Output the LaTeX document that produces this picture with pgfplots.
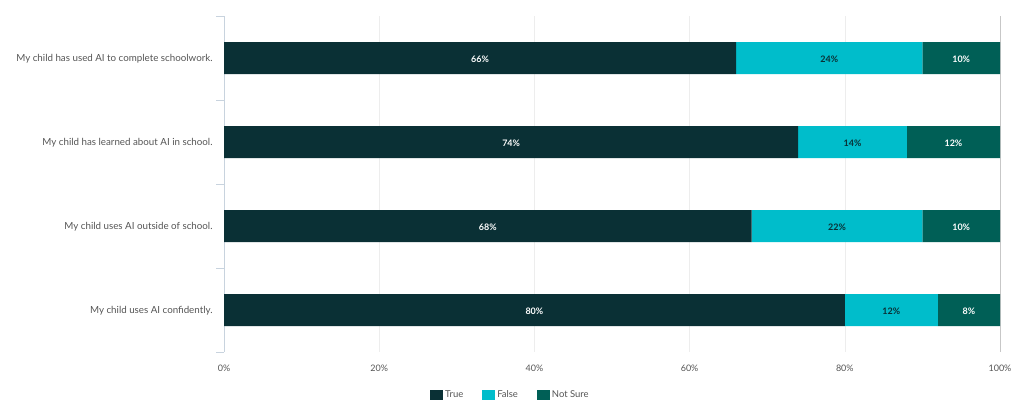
\documentclass[border=0pt]{standalone}
\usepackage{pgfplots}
\pgfplotsset{compat=1.18}
\usepackage{pgfplotstable}
\usepackage{fontspec}
\setmainfont{Lato}

\definecolor{cTrue}{HTML}{0A3035}
\definecolor{cFalse}{HTML}{00BDCB}
\definecolor{cUnsure}{HTML}{005F56}
\definecolor{labgray}{HTML}{555555}
\definecolor{axisblue}{HTML}{C8D3DE}

\pgfplotstableread{
cat true false unsure
0 66 24 10
1 74 14 12
2 68 22 10
3 80 12 8
}\survey

\begin{document}
\begin{tikzpicture}
\pgfplotsset{
  common/.style={
    at={(224bp,67bp)}, anchor=south west,
    scale only axis, width=776bp, height=336bp,
    xmin=0, xmax=100, ymin=-0.5, ymax=3.5, y dir=reverse,
    /pgf/number format/assume math mode=true,
  },
}
\begin{axis}[
    common,
    xbar stacked,
    bar width=32bp,
    separate axis lines,
    axis x line*=bottom,
    axis y line*=left,
    x axis line style={draw=none},
    y axis line style={draw=axisblue},
    xtick={0,20,...,100},
    xticklabel={\pgfmathprintnumber{\tick}\%},
    xticklabel style={inner sep=0pt, yshift=-9bp, font=\fontsize{9}{10}\selectfont, text=labgray},
    major x tick style={draw=none},
    xmajorgrids,
    grid style={draw=black!7},
    extra x ticks={100},
    extra x tick labels={},
    extra x tick style={grid style={draw=black!22}, major tick length=0pt},
    ytick={0,1,2,3},
    yticklabels={My child has used AI to complete schoolwork.,
                 My child has learned about AI in school.,
                 My child uses AI outside of school.,
                 My child uses AI confidently.},
    yticklabel style={inner sep=0pt, xshift=-7bp, yshift=-1bp, font=\fontsize{9.8}{11}\selectfont, text=labgray},
    major y tick style={draw=none},
    minor ytick={-0.5,0.5,1.5,2.5,3.5},
    minor tick length=8bp,
    tick align=outside,
    minor y tick style={draw=axisblue},
    legend style={at={(0.369,-0.128)}, anchor=center, draw=none,
      font=\fontsize{9.5}{10}\selectfont, text=labgray,
      /tikz/every even column/.append style={column sep=17bp}},
    legend columns=3,
    legend image code/.code={\fill[#1] (0bp,-4.5bp) rectangle (13bp,5.5bp);},
  ]
  \addplot[fill=cTrue, draw=none] table[x=true, y=cat] {\survey};
  \addplot[fill=cFalse, draw=none] table[x=false, y=cat] {\survey};
  \addplot[fill=cUnsure, draw=none] table[x=unsure, y=cat] {\survey};
  \legend{True, False, Not Sure}
\end{axis}
\begin{axis}[
    common, hide axis,
    nodes near coords={\pgfmathprintnumber{\pgfplotspointmeta}\%},
    nodes near coords align=center,
    every node near coord/.append style={font=\bfseries\fontsize{9}{10}\selectfont, anchor=center, yshift=-1bp},
  ]
  \addplot[only marks, mark=none, point meta=\thisrow{true},
    every node near coord/.append style={text=white}]
    table[x expr=\thisrow{true}/2, y=cat] {\survey};
  \addplot[only marks, mark=none, point meta=\thisrow{false},
    every node near coord/.append style={text=cTrue}]
    table[x expr=\thisrow{true}+\thisrow{false}/2, y=cat] {\survey};
  \addplot[only marks, mark=none, point meta=\thisrow{unsure},
    every node near coord/.append style={text=white}]
    table[x expr=\thisrow{true}+\thisrow{false}+\thisrow{unsure}/2, y=cat] {\survey};
\end{axis}
\pgfresetboundingbox
\path (0,0) rectangle (1024bp,419bp);
\end{tikzpicture}
\end{document}
